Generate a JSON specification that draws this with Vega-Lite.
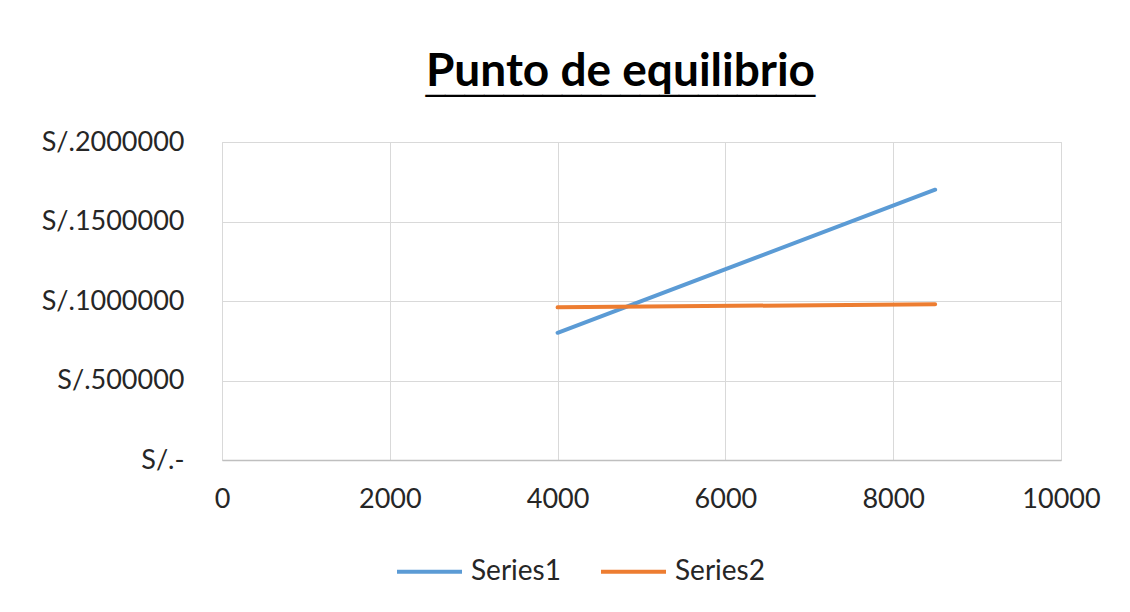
{
  "$schema": "https://vega.github.io/schema/vega-lite/v6.json",
  "autosize": {"type": "none"},
  "padding": {"left": 222, "top": 142, "right": 69, "bottom": 152},
  "width": 839,
  "height": 318,
  "background": "white",
  "title": {
    "text": "Punto de equilibrio",
    "subtitle": "____________________",
    "font": "Lato",
    "fontSize": 46,
    "fontWeight": "bold",
    "color": "#000000",
    "subtitleFont": "Liberation Sans",
    "subtitleFontSize": 35,
    "subtitleFontWeight": "normal",
    "subtitleColor": "#000000",
    "subtitlePadding": -34,
    "anchor": "middle",
    "dx": -21,
    "offset": 30
  },
  "data": {
    "values": [
      {"x": 4000, "y": 800000, "serie": "Series1"},
      {"x": 8500, "y": 1700000, "serie": "Series1"},
      {"x": 4000, "y": 960000, "serie": "Series2"},
      {"x": 8500, "y": 980000, "serie": "Series2"}
    ]
  },
  "mark": {"type": "line", "strokeWidth": 4, "strokeCap": "round"},
  "encoding": {
    "x": {
      "field": "x",
      "type": "quantitative",
      "scale": {"domain": [0, 10000], "nice": false},
      "axis": {
        "values": [0, 2000, 4000, 6000, 8000, 10000],
        "title": null,
        "format": "d",
        "labelFont": "Lato",
        "labelFontSize": 27,
        "labelColor": "#262626",
        "labelPadding": 26,
        "ticks": false,
        "domainColor": "#bfbfbf",
        "domainWidth": 1.5,
        "gridColor": "#d9d9d9",
        "labelFlush": false
      }
    },
    "y": {
      "field": "y",
      "type": "quantitative",
      "scale": {"domain": [0, 2000000], "nice": false},
      "axis": {
        "values": [0, 500000, 1000000, 1500000, 2000000],
        "title": null,
        "labelExpr": "datum.value == 0 ? 'S/.-\u00a0\u00a0' : 'S/.' + datum.value",
        "labelFont": "Lato",
        "labelFontSize": 27,
        "labelColor": "#262626",
        "labelPadding": 38,
        "ticks": false,
        "domain": false,
        "gridColor": "#d9d9d9"
      }
    },
    "color": {
      "field": "serie",
      "type": "nominal",
      "scale": {"domain": ["Series1", "Series2"], "range": ["#5B9BD5", "#ED7D31"]},
      "legend": {
        "title": null,
        "orient": "none",
        "direction": "horizontal",
        "legendX": 173,
        "legendY": 395,
        "symbolType": "stroke",
        "symbolSize": 4225,
        "symbolStrokeWidth": 4,
        "labelFont": "Lato",
        "labelFontSize": 28,
        "labelColor": "#262626",
        "labelOffset": 7,
        "columnPadding": 32
      }
    }
  },
  "config": {
    "view": {"stroke": "#d9d9d9"}
  }
}
